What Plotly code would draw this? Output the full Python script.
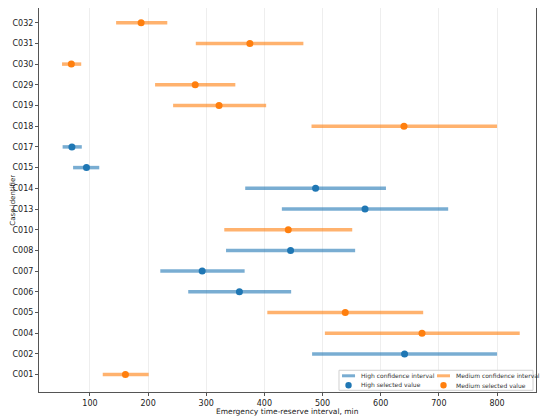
import plotly.graph_objects as go

# case identifiers, bottom to top
cases = ["C001", "C002", "C004", "C005", "C006", "C007", "C008", "C010", "C013",
         "C014", "C015", "C017", "C018", "C019", "C029", "C030", "C031", "C032"]
confidence = ["Medium", "High", "Medium", "Medium", "High", "High", "High", "Medium", "High",
              "High", "High", "High", "Medium", "Medium", "Medium", "Medium", "Medium", "Medium"]
lower = [122, 482, 504, 405, 269, 221, 334, 331, 430, 367, 71, 53, 481, 243, 212, 52, 282, 145]
upper = [201, 800, 839, 673, 446, 366, 556, 551, 716, 609, 116, 86, 800, 403, 350, 85, 467, 233]
selected = [161, 641, 671, 539, 357, 293, 445, 441, 573, 488, 94, 69, 640, 322, 281, 68, 375, 188]
levels = ["High", "Medium"]

colors = {"High": "#1f77b4", "Medium": "#ff7f0e"}
interval_colors = {"High": "rgba(31,119,180,0.6)", "Medium": "rgba(255,127,14,0.6)"}

fig = go.Figure()

# confidence intervals
for level in levels:
    xs, ys = [], []
    for c, lv, lo, hi in zip(cases, confidence, lower, upper):
        if lv == level:
            xs += [lo, hi, None]
            ys += [c, c, None]
    fig.add_trace(go.Scatter(x=xs, y=ys, mode="lines", name=f"{level} confidence interval",
                             line=dict(color=interval_colors[level], width=3.5)))

# selected values
for level in levels:
    xs = [v for v, lv in zip(selected, confidence) if lv == level]
    ys = [c for c, lv in zip(cases, confidence) if lv == level]
    fig.add_trace(go.Scatter(x=xs, y=ys, mode="markers", name=f"{level} selected value",
                             marker=dict(color=colors[level], size=7)))

# legend drawn by hand (2 x 2 like the original, plotly's legend rows are too tall)
shapes = [dict(type="rect", xref="paper", yref="paper", x0=0.6036, x1=0.994, y0=0.0044, y1=0.0566,
               line=dict(color="#d0d0d0", width=1), fillcolor="rgba(255,255,255,0.8)")]
annotations = []
row_y = {"line": 0.0422, "dot": 0.0175}
col_x = {"High": 0.6097, "Medium": 0.8008}
for level in levels:
    x0 = col_x[level]
    shapes.append(dict(type="line", xref="paper", yref="paper", x0=x0, x1=x0 + 0.0262,
                       y0=row_y["line"], y1=row_y["line"],
                       line=dict(color=interval_colors[level], width=3)))
    shapes.append(dict(type="circle", xref="paper", yref="paper", xsizemode="pixel", ysizemode="pixel",
                       xanchor=x0 + 0.0131, yanchor=row_y["dot"], x0=-3.2, x1=3.2, y0=-3.2, y1=3.2,
                       fillcolor=colors[level], line=dict(width=0)))
    for key, label in [("line", "confidence interval"), ("dot", "selected value")]:
        annotations.append(dict(xref="paper", yref="paper", x=x0 + 0.0342, y=row_y[key],
                                xanchor="left", yanchor="middle", showarrow=False,
                                text=f"{level} {label}", font=dict(size=6, color="#333")))

# axis titles
annotations.append(dict(xref="paper", yref="paper", x=0.5, y=-0.0503, xanchor="center", yanchor="middle",
                        showarrow=False, text="Emergency time-reserve interval, min",
                        font=dict(size=7.5)))
annotations.append(dict(xref="paper", yref="paper", x=-0.053, y=0.5, xanchor="center", yanchor="middle",
                        showarrow=False, textangle=-90, text="Case identifier", font=dict(size=7)))

# page body has an 8px margin and the right edge of the window gets cut,
# so the figure is a bit smaller than the window
fig.update_layout(
    width=534, height=412,
    margin=dict(l=31, r=6, t=0, b=28, autoexpand=False),
    plot_bgcolor="white", paper_bgcolor="white",
    font=dict(family="DejaVu Sans", size=8, color="#222"),
    showlegend=False,
    shapes=shapes,
    annotations=annotations,
)
fig.update_xaxes(range=[12.4, 867], tickvals=[100, 200, 300, 400, 500, 600, 700, 800],
                 showgrid=True, gridcolor="#eeeeee", gridwidth=1, zeroline=False,
                 showline=True, linecolor="#555", linewidth=1, mirror=True,
                 ticks="outside", ticklen=3, tickcolor="#555", automargin=False)
fig.update_yaxes(type="category", categoryorder="array", categoryarray=cases,
                 range=[-0.84, 17.71], showgrid=False, zeroline=False,
                 showline=True, linecolor="#555", linewidth=1, mirror=True,
                 ticks="outside", ticklen=3, tickcolor="#555", automargin=False)

fig.write_html("out.html")
